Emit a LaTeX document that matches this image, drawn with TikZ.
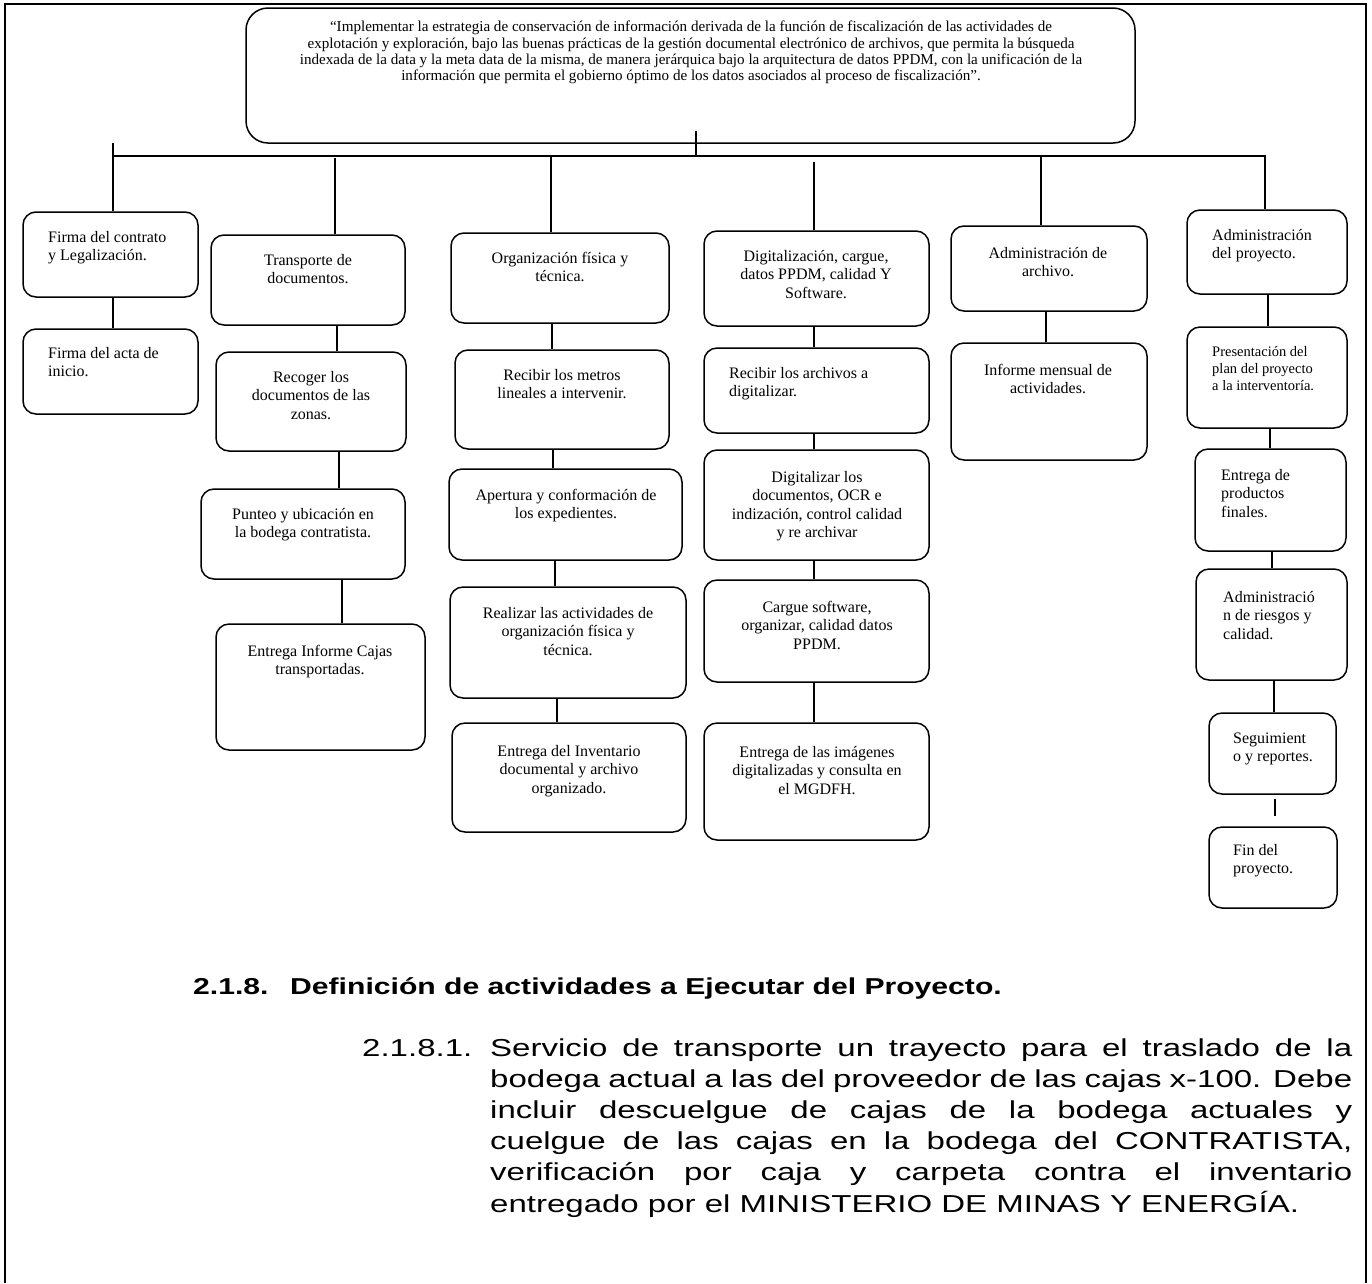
\documentclass[tikz,border=0pt]{standalone}
\usepackage{fontspec}
\setmainfont{Liberation Serif}
\newfontfamily\arialf{Liberation Sans}
\usepackage{graphicx}
\usetikzlibrary{fit,calc}
\newcommand\lk[3]{\draw[lnk] ($(#1.south)+(#3,0)$) -- ($(#1.south |- #2.north)+(#3,0)$);}
\newcommand\tcn[4]{\node[txt,align=center,anchor=north] (#1) at (#2,#3) {\strut #4};}
\newcommand\tlf[4]{\node[txt,align=left,anchor=north west] (#1) at (#2,#3) {\strut #4};}
\begin{document}
\begin{tikzpicture}[x=1pt,y=-1pt,
  box/.style={draw,line width=1.5pt,rounded corners=13pt,inner sep=0pt},
  topbox/.style={box,rounded corners=22pt},
  lnk/.style={line width=1.3pt},
  frm/.style={line width=1.8pt},
  txt/.style={inner sep=0pt,font=\fontsize{16}{18.5}\selectfont},
  smalltxt/.style={inner sep=0pt,font=\fontsize{14.5}{17}\selectfont},
  toptxt/.style={inner sep=0pt,font=\fontsize{15.1}{16.4}\selectfont},
  headf/.style={inner sep=0pt,anchor=base west,font=\arialf\bfseries\fontsize{23}{27}\selectfont},
  parf/.style={inner sep=0pt,anchor=base west,font=\arialf\fontsize{24.5}{31.2}\selectfont}]
\useasboundingbox (0,0) rectangle (1372,1283);
% page frame
\draw[frm] (5,1283) -- (5,4) -- (1366,4) -- (1366,1283);

% top box
\node[topbox,fit={(246,8) (1135,143)}] (T) {};
\node[toptxt,align=center,anchor=north] (Tt) at (691,20) {\strut “Implementar la estrategia de conservación de información derivada de la función de fiscalización de las actividades de\\
explotación y exploración, bajo las buenas prácticas de la gestión documental electrónico de archivos, que permita la búsqueda\\
indexada de la data y la meta data de la misma, de manera jerárquica bajo la arquitectura de datos PPDM, con la unificación de la\\
información que permita el gobierno óptimo de los datos asociados al proceso de fiscalización”.};

% boxes
\node[box,fit={(23,212) (198,297)}] (A1) {};
\node[box,fit={(23,329) (198,414)}] (A2) {};
\node[box,fit={(211,235) (405,325)}] (B1) {};
\node[box,fit={(216,352) (406,451)}] (B2) {};
\node[box,fit={(201,489) (405,579)}] (B3) {};
\node[box,fit={(216,624) (425,750)}] (B4) {};
\node[box,fit={(451,233) (669,323)}] (C1) {};
\node[box,fit={(455,350) (669,449)}] (C2) {};
\node[box,fit={(449,469) (682,560)}] (C3) {};
\node[box,fit={(450,587) (686,698)}] (C4) {};
\node[box,fit={(452,723) (686,832)}] (C5) {};
\node[box,fit={(704,231) (929,326)}] (D1) {};
\node[box,fit={(704,348) (929,433)}] (D2) {};
\node[box,fit={(704,450) (929,560)}] (D3) {};
\node[box,fit={(704,580) (929,682)}] (D4) {};
\node[box,fit={(704,723) (929,840)}] (D5) {};
\node[box,fit={(951,226) (1147,311)}] (E1) {};
\node[box,fit={(951,343) (1147,460)}] (E2) {};
\node[box,fit={(1187,210) (1347,294)}] (F1) {};
\node[box,fit={(1187,327) (1347,428)}] (F2) {};
\node[box,fit={(1195,449) (1346,551)}] (F3) {};
\node[box,fit={(1196,569) (1347,680)}] (F4) {};
\node[box,fit={(1209,713) (1336,794)}] (F5) {};
\node[box,fit={(1209,827) (1337,908)}] (F6) {};

% texts
\tlf{A1t}{48}{229}{Firma del contrato\\y Legalización.}
\tlf{A2t}{48}{345}{Firma del acta de\\inicio.}
\tcn{B1t}{308}{252}{Transporte de\\documentos.}
\tcn{B2t}{311}{369}{Recoger los\\documentos de las\\zonas.}
\tcn{B3t}{303}{506}{Punteo y ubicación en\\la bodega contratista.}
\tcn{B4t}{320}{643}{Entrega Informe Cajas\\transportadas.}
\tcn{C1t}{560}{250}{Organización física y\\técnica.}
\tcn{C2t}{562}{367}{Recibir los metros\\lineales a intervenir.}
\tcn{C3t}{566}{487}{Apertura y conformación de\\los expedientes.}
\tcn{C4t}{568}{605}{Realizar las actividades de\\organización física y\\técnica.}
\tcn{C5t}{569}{743}{Entrega del Inventario\\documental y archivo\\organizado.}
\tcn{D1t}{816}{248}{Digitalización, cargue,\\datos PPDM, calidad Y\\Software.}
\tlf{D2t}{729}{365}{Recibir los archivos a\\digitalizar.}
\tcn{D3t}{817}{469}{Digitalizar los\\documentos, OCR e\\indización, control calidad\\y re archivar}
\tcn{D4t}{817}{599}{Cargue software,\\organizar, calidad datos\\PPDM.}
\tcn{D5t}{817}{744}{Entrega de las imágenes\\digitalizadas y consulta en\\el MGDFH.}
\tcn{E1t}{1048}{245}{Administración de\\archivo.}
\tcn{E2t}{1048}{362}{Informe mensual de\\actividades.}
\tlf{F1t}{1212}{227}{Administración\\del proyecto.}
\node[smalltxt,align=left,anchor=north west] (F2t) at (1212,344) {\strut Presentación del\\plan del proyecto\\a la interventoría.};
\tlf{F3t}{1221}{467}{Entrega de\\productos\\finales.}
\tlf{F4t}{1223}{589}{Administració\\n de riesgos y\\calidad.}
\tlf{F5t}{1233}{730}{Seguimient\\o y reportes.}
\tlf{F6t}{1233}{842}{Fin del\\proyecto.}

% bus and stems
\coordinate (busL) at (113,156);
\coordinate (busR) at (1265,156);
\coordinate (J) at (696,156);
\coordinate (k2) at (335,156);
\coordinate (k3) at (551,156);
\coordinate (k4) at (814,156);
\coordinate (k5) at (1041,156);
\draw[lnk] ($(J |- T.south)+(0,-13)$) -- (J);
\draw[lnk] (busL) -- (busR) -- (busR |- F1.north);
\draw[lnk] ($(busL)+(0,-13)$) -- (busL |- A1.north);
\draw[lnk] ($(k2)+(0,2)$) -- (k2 |- B1.north);
\draw[lnk] (k3) -- (k3 |- C1.north);
\draw[lnk] ($(k4)+(0,6)$) -- (k4 |- D1.north);
\draw[lnk] (k5) -- (k5 |- E1.north);

% links within columns
\lk{A1}{A2}{2.5}
\lk{B1}{B2}{29}
\lk{B2}{B3}{28}
\lk{B3}{B4}{39}
\lk{C1}{C2}{-8}
\lk{C2}{C3}{-9}
\lk{C3}{C4}{-10.5}
\lk{C4}{C5}{-11}
\lk{D1}{D2}{-2.5}
\lk{D2}{D3}{-2.5}
\lk{D3}{D4}{-2.5}
\lk{D4}{D5}{-2.5}
\lk{E1}{E2}{-3}
\lk{F1}{F2}{1}
\lk{F2}{F3}{3}
\lk{F3}{F4}{1.5}
\lk{F4}{F5}{2.5}
\draw[lnk] ($(F5.south)+(2.5,4)$) -- ($(F5.south |- F6.north)+(2.5,-10)$);

% text below
\node[headf] (h1) at (193,994) {\scalebox{1.31}[1]{2.1.8.}};
\node[headf] (h2) at (290,994) {\scalebox{1.31}[1]{Definición de actividades a Ejecutar del Proyecto.}};
\node[parf] (p0) at (362,1056) {\scalebox{1.347}[1]{2.1.8.1.}};
\node[parf] (p1) at (490,1056) {\scalebox{1.347}[1]{\parbox[t]{640pt}{\tolerance=10000\hyphenpenalty=10000\parindent=0pt
Servicio de transporte un trayecto para el traslado de la\linebreak
bodega actual a las del proveedor de las cajas x-100. Debe\linebreak
incluir descuelgue de cajas de la bodega actuales y\linebreak
cuelgue de las cajas en la bodega del CONTRATISTA,\linebreak
verificación por caja y carpeta contra el inventario\linebreak
entregado por el MINISTERIO DE MINAS Y ENERGÍA.}}};
\end{tikzpicture}
\end{document}
